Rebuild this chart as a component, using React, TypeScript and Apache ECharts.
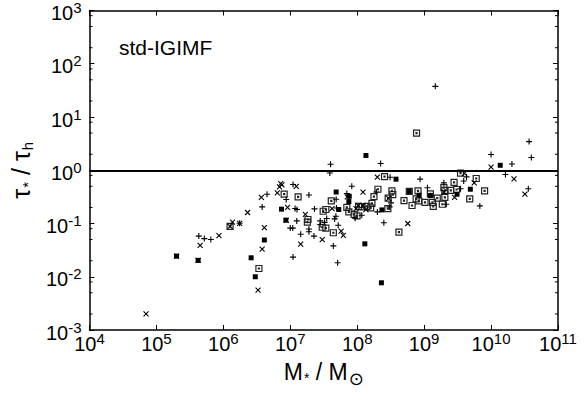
import React, { useEffect, useRef } from 'react';
import * as echarts from 'echarts';

// ---- Data (stellar mass M*/Msun, tau*/tau_h) ----
const plusPoints: [number, number][] = [
  [4.3e5, 0.058], [5.2e5, 0.052], [6.5e5, 0.050], [1.75e6, 0.101], [4.5e6, 0.355],
  [3.8e6, 0.205], [8.7e6, 0.282], [1.1e7, 0.54], [1.18e7, 0.191], [1.26e7, 0.183],
  [1.25e7, 0.112], [1.0e7, 0.082], [1.09e7, 0.082], [1.43e7, 0.063], [1.1e7, 0.0234],
  [4.0e7, 1.3], [2.24e8, 1.34], [3.9e7, 0.89], [3.1e8, 0.74], [8.7e8, 0.68],
  [3.9e9, 0.63], [8.3e7, 0.5], [7.0e7, 0.366], [4.85e7, 0.286], [1.93e8, 0.39],
  [1.12e9, 0.47], [1.97e9, 0.58], [2.14e9, 0.23], [3.5e9, 0.45], [6.8e9, 0.214],
  [2.3e7, 0.188], [1.9e7, 0.344], [4.9e7, 0.196], [1.17e8, 0.143], [2.0e8, 0.165],
  [3.2e8, 0.244], [3.05e8, 0.205], [9.3e7, 0.126], [4.8e7, 0.137], [4.6e7, 0.122],
  [2.8e7, 0.112], [3.5e7, 0.124], [3.25e7, 0.105], [5.2e7, 0.093], [4.4e7, 0.038],
  [2.8e7, 0.096], [1.9e7, 0.079], [1.9e7, 0.070], [2.26e7, 0.058], [5.1e7, 0.0183],
  [2.5e8, 0.103], [1.47e9, 37.6], [3.7e10, 3.45], [1.0e10, 1.97], [4.0e10, 1.73],
  [2.05e10, 1.31], [4.3e9, 0.75], [1.64e10, 0.83], [3.6e10, 0.45]
];

const crossPoints: [number, number][] = [
  [7.0e4, 0.0020], [2.0e5, 0.0244], [4.2e5, 0.0203], [4.5e5, 0.039], [8.6e5, 0.059],
  [2.3e6, 0.161], [1.26e6, 0.088], [1.37e6, 0.106], [1.75e6, 0.101], [4.1e6, 0.084],
  [3.8e6, 0.033], [3.3e6, 0.0056], [3.7e6, 0.308], [7.2e6, 0.563], [6.9e6, 0.486],
  [7.5e6, 0.53], [6.4e6, 0.375], [9.1e6, 0.2], [1.23e7, 0.5], [1.43e7, 0.041],
  [2.0e8, 0.74], [4.0e9, 0.87], [5.6e9, 0.58], [1.22e8, 0.39], [7.1e7, 0.316],
  [2.95e8, 0.295], [1.97e9, 0.39], [2.85e9, 0.31], [4.2e7, 0.19], [1.03e8, 0.22],
  [1.22e8, 0.22], [1.35e8, 0.183], [9.6e7, 0.19], [1.68e7, 0.148], [8.7e6, 0.115],
  [5.75e7, 0.072], [6.2e7, 0.060], [3.0e7, 0.050], [5.7e8, 0.100], [1.0e10, 1.15],
  [2.2e10, 0.69], [3.2e10, 0.355]
];

const filledSquarePoints: [number, number][] = [
  [2.0e5, 0.0244], [4.2e5, 0.0203], [4.1e6, 0.049], [2.6e6, 0.0227], [3.0e6, 0.010],
  [7.4e6, 0.186], [8.6e6, 0.1155], [1.35e8, 1.89], [3.8e8, 0.68], [4.85e7, 0.39],
  [7.6e7, 0.325], [7.5e7, 0.259], [6.0e8, 0.40], [8.4e8, 0.34], [1.24e9, 0.335],
  [3.1e9, 0.355], [4.9e9, 0.44], [2.34e8, 0.18], [5.3e7, 0.183], [1.3e8, 0.0415],
  [2.3e8, 0.0077], [1.37e10, 1.24]
];

const openSquarePoints: [number, number][] = [
  [1.26e6, 0.088], [3.4e6, 0.0143], [8.1e6, 0.355], [1.31e7, 0.316], [7.7e8, 5.0],
  [2.56e8, 0.76], [3.5e9, 0.88], [6.0e9, 0.70], [4.1e7, 0.266], [2.04e8, 0.44],
  [3.3e8, 0.41], [3.4e8, 0.35], [2.9e8, 0.30], [1.78e8, 0.32], [5.0e8, 0.27],
  [6.0e8, 0.40], [8.1e8, 0.41], [1.24e9, 0.36], [7.6e8, 0.29], [8.3e8, 0.266],
  [1.03e9, 0.25], [1.33e9, 0.25], [1.37e9, 0.21], [1.57e9, 0.30], [1.97e9, 0.47],
  [2.04e9, 0.31], [1.87e9, 0.23], [2.5e9, 0.42], [2.04e9, 0.42], [3.05e9, 0.435],
  [4.8e9, 0.29], [3.1e7, 0.17], [3.4e7, 0.183], [7.0e7, 0.20], [7.5e7, 0.165],
  [9.0e7, 0.148], [9.95e7, 0.139], [1.05e8, 0.21], [1.18e8, 0.205], [1.39e8, 0.21],
  [1.59e8, 0.196], [1.66e8, 0.238], [2.87e8, 0.19], [1.84e7, 0.119], [1.8e7, 0.106],
  [4.4e7, 0.067], [3.0e7, 0.085], [3.4e7, 0.082], [4.2e8, 0.069], [6.6e8, 0.218],
  [2.8e9, 0.59], [8.0e9, 0.41]
];

const referenceLevel = 1;

// ---- Axes ----
const xMin = 1e4;
const xMax = 1e11;
const yMin = 1e-3;
const yMax = 1e3;
const xTickExponents = ['4', '5', '6', '7', '8', '9', '10', '11'];
const yTickExponents = ['-3', '-2', '-1', '0', '1', '2', '3'];
const yMinorTicks = [
  2e-3, 5e-3, 8e-3, 2e-2, 5e-2, 8e-2, 0.2, 0.5, 0.8,
  2, 5, 8, 20, 50, 80, 200, 500, 800
];

const FONT = "'Liberation Sans', Arial, Helvetica, sans-serif";
const PLUS = 'path://M0,3L6,3M3,0L3,6';
const CROSS = 'path://M0,0L5,5M5,0L0,5';
const OPEN = 'path://M0,0L6,0L6,6L0,6ZM2.5,2.5L3.5,2.5L3.5,3.5L2.5,3.5Z';

function powLabel(exps: string[]) {
  return (_v: number, idx: number) => {
    const e = exps[idx];
    if (e === undefined) return '';
    return '{b|10}{s|' + e + '}';
  };
}

const tickRich = {
  b: { fontFamily: FONT, fontSize: 20, color: '#000' },
  s: { fontFamily: FONT, fontSize: 15, color: '#000', padding: [0, 0, 11, 0] },
};

export default function App() {
  const ref = useRef<HTMLDivElement>(null);
  useEffect(() => {
    if (!ref.current) return;
    const chart = echarts.init(ref.current, undefined, { renderer: 'svg' });
    const axisLine = { show: true, onZero: false, lineStyle: { color: '#000', width: 1.5 } };
    const majorTick = { show: true, inside: true, length: 5, lineStyle: { color: '#000', width: 1 } };
    const baseX = {
      type: 'log', logBase: 10, min: xMin, max: xMax, splitNumber: 7,
      axisLine, axisTick: majorTick, splitLine: { show: false }, minorTick: { show: false },
    };
    const baseY = {
      type: 'log', logBase: 10, min: yMin, max: yMax, splitNumber: 6,
      axisLine, axisTick: majorTick, splitLine: { show: false }, minorTick: { show: false },
    };
    const scatterBase = { type: 'scatter', xAxisIndex: 0, yAxisIndex: 0, silent: true };
    chart.setOption({
      animation: false,
      backgroundColor: '#fff',
      grid: { left: 87, right: 28, top: 10, bottom: 70 },
      xAxis: [
        {
          ...baseX, position: 'bottom',
          axisLabel: {
            show: true, interval: 0, margin: 1, showMinLabel: true, showMaxLabel: true,
            formatter: powLabel(xTickExponents), rich: tickRich,
          },
          name: '{m|M}{sub|*}{m| / M}{sun|⊙}',
          nameLocation: 'middle', nameGap: 26,
          nameTextStyle: {
            rich: {
              m: { fontFamily: FONT, fontSize: 23, color: '#000' },
              sub: { fontFamily: FONT, fontSize: 14, color: '#000', padding: [13, 0, 0, 1] },
              sun: { fontFamily: "'DejaVu Sans', sans-serif", fontSize: 18, color: '#000', padding: [13, 0, 0, 1] },
            },
          },
        },
        { ...baseX, position: 'top', axisLabel: { show: false } },
      ],
      yAxis: [
        {
          ...baseY, position: 'left',
          axisLabel: {
            show: true, interval: 0, margin: 8, showMinLabel: true, showMaxLabel: true,
            formatter: powLabel(yTickExponents), rich: tickRich, padding: [5, 0, 0, 0],
          },
          name: '{t|τ}{sub|*}{t| / τ}{sub|h}',
          nameLocation: 'middle', nameRotate: 90, nameGap: 48,
          nameTextStyle: {
            rich: {
              t: { fontFamily: FONT, fontSize: 25, color: '#000' },
              sub: { fontFamily: FONT, fontSize: 15, color: '#000', padding: [14, 0, 0, 1] },
            },
          },
        },
        { ...baseY, position: 'right', axisLabel: { show: false } },
      ],
      graphic: [
        {
          type: 'text', left: 119, top: 37,
          style: { text: 'std-IGIMF', fontFamily: FONT, fontSize: 21, fill: '#000' },
        },
      ],
      series: [
        {
          type: 'custom', xAxisIndex: 0, yAxisIndex: 0, silent: true, clip: false,
          data: yMinorTicks.map((v) => [1e5, v]),
          renderItem: (params: any, api: any) => {
            const cs = params.coordSys;
            const p = api.coord([api.value(0), api.value(1)]);
            const y = p[1];
            const st = { stroke: '#000', lineWidth: 1 };
            return {
              type: 'group',
              children: [
                { type: 'line', shape: { x1: cs.x, y1: y, x2: cs.x + 3, y2: y }, style: st },
                { type: 'line', shape: { x1: cs.x + cs.width - 3, y1: y, x2: cs.x + cs.width, y2: y }, style: st },
              ],
            };
          },
        },
        {
          ...scatterBase, name: 'open', data: openSquarePoints, symbol: OPEN, symbolSize: 6,
          itemStyle: { color: 'rgba(0,0,0,0)', borderColor: '#222', borderWidth: 1.2, opacity: 1 },
          markLine: {
            silent: true, symbol: ['none', 'none'], label: { show: false },
            lineStyle: { color: '#000', width: 2, type: 'solid' },
            data: [{ yAxis: referenceLevel }],
          },
        },
        {
          ...scatterBase, name: 'filled', data: filledSquarePoints, symbol: 'rect', symbolSize: 5,
          itemStyle: { color: '#000', opacity: 1 },
        },
        {
          ...scatterBase, name: 'cross', data: crossPoints, symbol: CROSS, symbolSize: 5,
          itemStyle: { color: 'rgba(0,0,0,0)', borderColor: '#000', borderWidth: 1.1, opacity: 1 },
        },
        {
          ...scatterBase, name: 'plus', data: plusPoints, symbol: PLUS, symbolSize: 6,
          itemStyle: { color: 'rgba(0,0,0,0)', borderColor: '#000', borderWidth: 1.1, opacity: 1 },
        },
      ],
    });
    return () => chart.dispose();
  }, []);
  return (
    <div
      ref={ref}
      style={{ position: 'fixed', left: 0, top: 0, width: 586, height: 400, background: '#fff' }}
    />
  );
}
